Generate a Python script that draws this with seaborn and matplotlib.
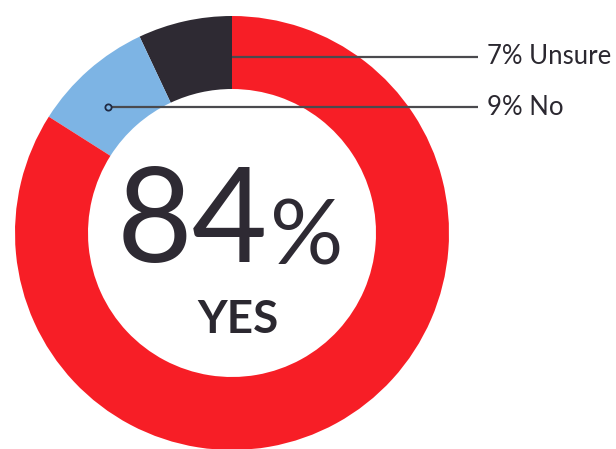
import numpy as np
import matplotlib
matplotlib.use("Agg")
import matplotlib.pyplot as plt
import seaborn as sns

# Data
categories = ["Unsure", "No", "Yes"]
values = [7, 9, 84]
label_texts = ["7% Unsure", "9% No"]
center_value = "84"
center_label = "YES"

sns.set_theme(style="white")
plt.rcParams['font.family'] = ['Lato', 'DejaVu Sans']

colors = ["#2E2A33", "#7DB4E4", "#F71E26"]

W, H = 616, 449
fig = plt.figure(figsize=(W / 100, H / 100), dpi=100)
ax = fig.add_axes([0, 0, 1, 1])
ax.set_xlim(0, W)
ax.set_ylim(0, H)
ax.set_aspect('equal')
ax.axis('off')

cx, cy = 232, 216
r_out = 217
r_in = 144
ring_w = r_out - r_in

wedges, _ = ax.pie(values, colors=colors, startangle=90, counterclock=True,
                   radius=r_out, center=(cx, cy),
                   wedgeprops=dict(width=ring_w, linewidth=0))
ax.set_xlim(0, W)
ax.set_ylim(0, H)

r_mid = (r_out + r_in) / 2
line_end_x = 478
text_x = 487
line_color = "#4A4A4E"

# Unsure leader: start at boundary (top), at ring middle
t1 = np.deg2rad(wedges[0].theta1)
y1 = cy + (r_mid - 4) * np.sin(t1)
x1 = cx + (r_mid - 4) * np.cos(t1)
ax.plot([x1, line_end_x], [y1, y1], color=line_color, lw=1.6, solid_capstyle='butt', zorder=5)
ax.text(text_x, y1, label_texts[0], fontsize=18.5, color="#2B2830", va='center', ha='left')

# No leader: start near mid-angle of blue wedge
tm = np.deg2rad(wedges[1].theta1 + 0.6 * (wedges[1].theta2 - wedges[1].theta1))
x2 = cx + (r_mid - 4) * np.cos(tm)
y2 = cy + (r_mid - 4) * np.sin(tm)
ax.plot([x2, line_end_x], [y2, y2], color=line_color, lw=1.6, solid_capstyle='butt', zorder=5)
ax.plot([x2], [y2], marker='o', ms=4.5, mfc="#7DB4E4", mec="#1F2A44", mew=1.3, zorder=6)
ax.text(text_x, y2, label_texts[1], fontsize=18.5, color="#2B2830", va='center', ha='left')

# Center text
ax.text(cx + 36, cy + 8, center_value, fontsize=94, fontweight='normal', color="#2E2A33",
        ha='right', va='center')
ax.text(cx + 38, cy - 6, "%", fontsize=66, fontweight='normal', color="#2E2A33",
        ha='left', va='center')
ax.text(cx + 6, cy - 87, center_label, fontsize=33, fontweight='bold', color="#2B2830",
        ha='center', va='center')

fig.savefig("out.png", dpi=100, facecolor='white')
